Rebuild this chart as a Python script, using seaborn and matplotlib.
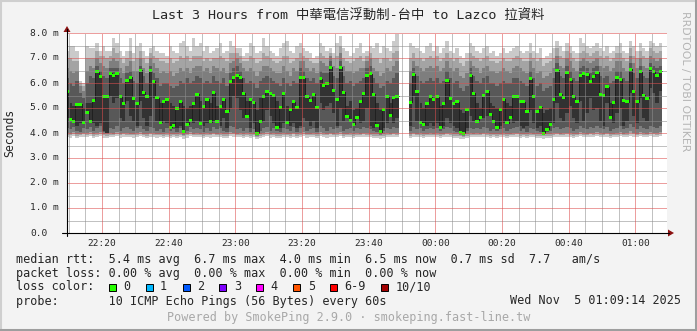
import numpy as np
import pandas as pd
import matplotlib
matplotlib.use("Agg")
import matplotlib.pyplot as plt
import seaborn as sns
from matplotlib.lines import Line2D
from matplotlib.patches import Rectangle, Polygon

nan = np.nan

# ---------------- data (ms), one sample per minute, first sample 22:09-22:10 ----------------
first_minute = 9          # minutes after 22:00 at which the first sample interval starts
median_ms = [
    5.65, 4.56, 4.48, 5.16, 5.16, 4.43, 4.83, 4.48, 5.32, 6.45,
    6.28, 5.47, 5.47, 6.40, 6.32, 6.39, 5.48, 5.20, 6.12, 6.23,
    5.39, 5.17, 6.51, 5.63, 5.48, 6.50, 6.07, 5.41, 4.44, 5.25,
    5.36, 4.24, 4.32, 4.99, 5.25, 4.05, 4.35, 4.52, 5.20, 5.55,
    4.39, 5.05, 5.36, 4.45, 5.62, 4.48, 5.08, 5.35, 4.88, 6.05,
    6.23, 6.32, 6.21, 5.60, 4.67, 5.36, 5.24, 4.00, 4.48, 5.48,
    5.68, 5.57, 5.50, 4.24, 5.01, 5.60, 4.43, 4.93, 5.25, 5.04,
    6.21, 6.21, 5.45, 5.32, 5.55, 5.01, 6.17, 5.89, 5.99, 6.64,
    5.72, 5.33, 6.63, 5.63, 4.67, 4.52, 4.36, 4.61, 5.25, 5.57,
    6.29, 6.37, 5.55, 4.29, 4.05, 4.93, 5.45, 4.69, 5.44, 5.48,
    nan, nan, nan, 5.24, 6.35, 5.65, 4.44, 4.36, 5.19, 5.45,
    5.33, 5.45, 4.24, 5.19, 6.11, 5.39, 5.19, 5.25, 4.03, 3.99,
    4.96, 6.32, 5.59, 4.48, 4.63, 5.50, 5.68, 4.76, 4.48, 4.21,
    4.93, 5.35, 4.41, 4.63, 5.45, 5.45, 5.25, 5.25, 4.88, 6.17,
    5.45, 4.88, 5.04, 4.00, 4.16, 4.36, 5.36, 6.51, 5.56, 5.41,
    6.43, 6.13, 5.48, 5.28, 6.32, 6.40, 6.35, 6.08, 6.28, 6.43,
    5.56, 5.50, 5.85, 4.61, 5.23, 6.23, 6.15, 5.29, 5.25, 6.55,
    5.68, 5.25, 6.45, 5.52, 5.39, 6.59, 6.48, 6.32, 6.48,
]
# the ping next to the median (other edge of the darkest smoke band)
ping_mid_ms = [
    4.6, 5.2, 5.1, 4.3, 4.4, 5.0, 5.2, 5.2, 4.4, 4.3,
    4.4, 4.1, 4.0, 5.5, 5.2, 5.4, 4.6, 4.5, 5.3, 4.7,
    4.5, 4.3, 5.3, 4.6, 4.3, 4.7, 5.4, 4.5, 5.2, 4.5,
    4.4, 5.2, 5.1, 4.2, 4.3, 5.1, 5.0, 5.1, 4.4, 4.5,
    5.3, 4.3, 4.4, 5.2, 4.5, 5.1, 4.3, 4.6, 4.2, 5.0,
    5.5, 5.4, 4.9, 4.6, 5.3, 4.2, 4.4, 4.9, 5.4, 4.5,
    4.9, 4.7, 4.4, 5.3, 4.2, 4.4, 5.1, 4.3, 4.4, 4.2,
    4.3, 4.6, 4.5, 4.3, 4.5, 4.2, 5.2, 4.9, 5.1, 5.2,
    4.8, 4.3, 5.0, 4.5, 5.1, 5.3, 4.9, 5.0, 4.4, 4.5,
    5.0, 4.3, 4.2, 5.2, 4.9, 4.2, 4.4, 5.2, 4.4, 4.6,
    nan, nan, nan, 4.3, 5.5, 4.5, 5.2, 5.0, 4.3, 4.4,
    4.3, 4.4, 5.1, 4.3, 4.6, 4.4, 4.3, 4.2, 4.9, 4.8,
    4.2, 4.7, 4.5, 5.2, 5.0, 4.6, 4.7, 5.2, 5.1, 5.0,
    4.3, 4.4, 5.2, 5.1, 4.4, 4.5, 4.3, 4.2, 4.3, 4.9,
    4.4, 4.2, 4.3, 4.8, 4.9, 5.0, 4.4, 5.2, 4.6, 4.5,
    4.8, 5.1, 4.6, 4.4, 5.3, 4.5, 4.8, 5.4, 4.9, 5.0,
    4.5, 4.3, 5.2, 5.2, 4.4, 4.8, 5.0, 4.3, 4.5, 5.6,
    4.7, 4.4, 5.4, 4.6, 4.5, 5.8, 5.6, 5.2, 5.7,
]
# sorted ping 1..4 (lowest) and 7..10 (highest)
ping1_ms = [
    3.84, 3.82, 3.88, 3.80, 3.83, 3.86, 3.84, 3.88, 3.80, 3.85,
    3.88, 3.82, 3.80, 3.85, 3.83, 3.88, 3.82, 3.86, 3.84, 3.83,
    3.82, 3.85, 3.88, 3.83, 3.80, 3.86, 3.84, 3.82, 3.83, 3.80,
    3.84, 3.80, 3.83, 3.79, 3.84, 3.78, 3.82, 3.87, 3.83, 3.84,
    3.83, 3.79, 3.84, 3.82, 3.86, 3.83, 3.84, 3.80, 3.79, 3.88,
    3.86, 3.83, 3.84, 3.80, 3.84, 3.79, 3.83, 3.76, 3.80, 3.84,
    3.87, 3.82, 3.84, 3.80, 3.79, 3.84, 3.83, 3.80, 3.86, 3.79,
    3.84, 3.87, 3.82, 3.83, 3.84, 3.79, 3.88, 3.84, 3.82, 3.86,
    3.83, 3.84, 3.88, 3.80, 3.83, 3.84, 3.80, 3.84, 3.83, 3.86,
    3.84, 3.83, 3.80, 3.79, 3.77, 3.80, 3.84, 3.83, 3.86, 3.84,
    nan, nan, nan, 3.80, 3.86, 3.83, 3.84, 3.80, 3.83, 3.84,
    3.83, 3.84, 3.80, 3.83, 3.86, 3.84, 3.80, 3.79, 3.77, 3.76,
    3.80, 3.84, 3.83, 3.84, 3.83, 3.86, 3.84, 3.80, 3.83, 3.80,
    3.83, 3.84, 3.80, 3.83, 3.84, 3.86, 3.80, 3.83, 3.79, 3.84,
    3.83, 3.80, 3.79, 3.77, 3.79, 3.80, 3.84, 3.86, 3.83, 3.84,
    3.86, 3.84, 3.80, 3.83, 3.88, 3.84, 3.83, 3.86, 3.84, 3.88,
    3.84, 3.83, 3.86, 3.80, 3.83, 3.84, 3.88, 3.83, 3.84, 3.90,
    3.86, 3.83, 3.88, 3.84, 3.83, 3.88, 3.86, 3.84, 3.88,
]
ping2_ms = [
    3.93, 3.92, 3.97, 3.90, 3.91, 3.95, 3.93, 3.97, 3.90, 3.93,
    3.97, 3.91, 3.90, 3.93, 3.92, 3.97, 3.91, 3.95, 3.93, 3.92,
    3.91, 3.93, 3.97, 3.92, 3.90, 3.95, 3.93, 3.91, 3.92, 3.90,
    3.93, 3.90, 3.92, 3.89, 3.93, 3.88, 3.91, 3.96, 3.92, 3.93,
    3.92, 3.89, 3.93, 3.91, 3.95, 3.92, 3.93, 3.90, 3.89, 3.97,
    3.95, 3.92, 3.93, 3.90, 3.93, 3.89, 3.92, 3.86, 3.90, 3.93,
    3.96, 3.91, 3.93, 3.90, 3.89, 3.93, 3.92, 3.90, 3.95, 3.89,
    3.93, 3.96, 3.91, 3.92, 3.93, 3.89, 3.97, 3.93, 3.91, 3.95,
    3.92, 3.93, 3.97, 3.90, 3.92, 3.93, 3.90, 3.93, 3.92, 3.95,
    3.93, 3.92, 3.90, 3.89, 3.87, 3.90, 3.93, 3.92, 3.95, 3.93,
    nan, nan, nan, 3.90, 3.95, 3.92, 3.93, 3.90, 3.92, 3.93,
    3.92, 3.93, 3.90, 3.92, 3.95, 3.93, 3.90, 3.89, 3.87, 3.86,
    3.90, 3.93, 3.92, 3.93, 3.92, 3.95, 3.93, 3.90, 3.92, 3.90,
    3.92, 3.93, 3.90, 3.92, 3.93, 3.95, 3.90, 3.92, 3.89, 3.93,
    3.92, 3.90, 3.89, 3.87, 3.89, 3.90, 3.93, 3.95, 3.92, 3.93,
    3.95, 3.93, 3.90, 3.92, 3.97, 3.93, 3.92, 3.95, 3.93, 3.97,
    3.93, 3.92, 3.95, 3.90, 3.92, 3.93, 3.97, 3.92, 3.93, 3.99,
    3.95, 3.92, 3.97, 3.93, 3.92, 3.97, 3.95, 3.93, 3.97,
]
ping3_ms = [
    4.00, 3.98, 4.05, 3.95, 3.97, 4.02, 4.00, 4.05, 3.96, 4.00,
    4.05, 3.97, 3.95, 4.00, 3.98, 4.05, 3.97, 4.02, 4.00, 3.98,
    3.97, 4.00, 4.05, 3.98, 3.96, 4.02, 4.00, 3.97, 3.98, 3.95,
    4.00, 3.96, 3.98, 3.95, 4.00, 3.93, 3.97, 4.03, 3.98, 4.00,
    3.98, 3.95, 4.00, 3.97, 4.02, 3.98, 4.00, 3.96, 3.95, 4.05,
    4.02, 3.98, 4.00, 3.96, 4.00, 3.95, 3.98, 3.90, 3.96, 4.00,
    4.03, 3.97, 4.00, 3.96, 3.95, 4.00, 3.98, 3.96, 4.02, 3.95,
    4.00, 4.03, 3.97, 3.98, 4.00, 3.95, 4.05, 4.00, 3.97, 4.02,
    3.98, 4.00, 4.05, 3.96, 3.98, 4.00, 3.96, 4.00, 3.98, 4.02,
    4.00, 3.98, 3.96, 3.95, 3.92, 3.96, 4.00, 3.98, 4.02, 4.00,
    nan, nan, nan, 3.96, 4.02, 3.98, 4.00, 3.96, 3.98, 4.00,
    3.98, 4.00, 3.96, 3.98, 4.02, 4.00, 3.96, 3.95, 3.92, 3.90,
    3.96, 4.00, 3.98, 4.00, 3.98, 4.02, 4.00, 3.96, 3.98, 3.96,
    3.98, 4.00, 3.96, 3.98, 4.00, 4.02, 3.96, 3.98, 3.95, 4.00,
    3.98, 3.96, 3.95, 3.92, 3.95, 3.96, 4.00, 4.02, 3.98, 4.00,
    4.02, 4.00, 3.96, 3.98, 4.05, 4.00, 3.98, 4.02, 4.00, 4.05,
    4.00, 3.98, 4.02, 3.96, 3.98, 4.00, 4.05, 3.98, 4.00, 4.08,
    4.02, 3.98, 4.05, 4.00, 3.98, 4.05, 4.02, 4.00, 4.05,
]
ping4_ms = [
    4.20, 4.15, 4.25, 4.10, 4.05, 4.20, 4.15, 4.25, 4.10, 4.20,
    4.30, 4.05, 4.00, 4.20, 4.15, 4.30, 4.10, 4.20, 4.25, 4.15,
    4.10, 4.20, 4.30, 4.15, 4.10, 4.25, 4.20, 4.10, 4.15, 4.05,
    4.20, 4.10, 4.15, 4.05, 4.20, 4.00, 4.10, 4.25, 4.15, 4.20,
    4.15, 4.05, 4.20, 4.10, 4.25, 4.15, 4.20, 4.10, 4.05, 4.30,
    4.25, 4.15, 4.20, 4.10, 4.20, 4.05, 4.15, 3.95, 4.10, 4.20,
    4.25, 4.10, 4.20, 4.10, 4.05, 4.20, 4.15, 4.10, 4.25, 4.05,
    4.20, 4.25, 4.10, 4.15, 4.20, 4.05, 4.30, 4.20, 4.10, 4.25,
    4.15, 4.20, 4.30, 4.10, 4.15, 4.20, 4.10, 4.20, 4.15, 4.25,
    4.20, 4.15, 4.10, 4.05, 3.98, 4.10, 4.20, 4.15, 4.25, 4.20,
    nan, nan, nan, 4.10, 4.25, 4.15, 4.20, 4.10, 4.15, 4.20,
    4.15, 4.20, 4.10, 4.15, 4.25, 4.20, 4.10, 4.05, 3.98, 3.95,
    4.10, 4.20, 4.15, 4.20, 4.15, 4.25, 4.20, 4.10, 4.15, 4.10,
    4.15, 4.20, 4.10, 4.15, 4.20, 4.25, 4.10, 4.15, 4.05, 4.20,
    4.15, 4.10, 4.05, 3.96, 4.05, 4.10, 4.20, 4.25, 4.15, 4.20,
    4.25, 4.20, 4.10, 4.15, 4.30, 4.20, 4.15, 4.25, 4.20, 4.30,
    4.20, 4.15, 4.25, 4.10, 4.15, 4.20, 4.30, 4.15, 4.20, 4.35,
    4.25, 4.15, 4.30, 4.20, 4.15, 4.30, 4.25, 4.20, 4.30,
]
ping7_ms = [
    6.2, 6.0, 5.9, 6.1, 5.6, 5.4, 6.0, 6.3, 6.2, 6.7,
    6.5, 6.3, 6.2, 6.6, 6.6, 6.6, 6.2, 6.0, 6.4, 6.5,
    6.1, 6.0, 6.7, 6.3, 6.0, 6.7, 6.4, 6.2, 5.9, 6.0,
    6.0, 5.9, 5.8, 5.9, 6.1, 6.0, 6.2, 6.0, 6.1, 6.3,
    6.2, 6.0, 6.1, 6.0, 6.3, 6.1, 6.0, 6.2, 5.9, 6.4,
    6.6, 6.7, 6.5, 6.2, 6.0, 6.1, 6.0, 5.8, 6.1, 6.2,
    6.3, 6.2, 6.1, 6.0, 5.9, 6.2, 6.0, 5.9, 6.1, 6.0,
    6.6, 6.5, 6.2, 6.1, 6.2, 6.0, 6.5, 6.4, 6.4, 6.9,
    6.3, 6.2, 6.9, 6.3, 6.0, 6.1, 5.9, 6.0, 6.1, 6.2,
    6.6, 6.7, 6.2, 6.0, 5.8, 5.9, 6.1, 6.0, 6.2, 6.4,
    nan, nan, nan, 6.0, 6.6, 6.3, 6.1, 6.0, 6.1, 6.2,
    6.1, 6.2, 6.0, 6.1, 6.5, 6.2, 6.0, 6.1, 5.8, 5.7,
    5.9, 6.6, 6.3, 6.1, 6.0, 6.2, 6.3, 6.0, 6.0, 5.9,
    6.0, 6.1, 6.0, 6.0, 6.2, 6.2, 6.1, 6.0, 5.9, 6.5,
    6.2, 5.9, 6.0, 5.7, 5.8, 5.9, 6.2, 6.8, 6.3, 6.2,
    6.7, 6.5, 6.2, 6.1, 6.6, 6.7, 6.6, 6.4, 6.6, 6.7,
    6.3, 6.2, 6.3, 6.0, 6.1, 6.5, 6.5, 6.2, 6.1, 6.8,
    6.4, 6.2, 6.7, 6.3, 6.2, 6.8, 6.7, 6.6, 6.7,
]
ping8_ms = [
    6.6, 6.5, 6.4, 6.5, 5.9, 5.7, 6.5, 6.7, 6.6, 7.0,
    6.8, 6.7, 6.6, 6.9, 7.0, 6.9, 6.6, 6.4, 6.7, 6.9,
    6.5, 6.5, 7.0, 6.6, 6.4, 7.0, 6.8, 6.6, 6.4, 6.5,
    6.4, 6.5, 6.3, 6.4, 6.6, 6.5, 6.6, 6.4, 6.6, 6.7,
    6.7, 6.5, 6.6, 6.4, 6.7, 6.6, 6.5, 6.6, 6.4, 6.8,
    6.9, 7.0, 6.8, 6.6, 6.5, 6.6, 6.5, 6.3, 6.5, 6.7,
    6.7, 6.6, 6.5, 6.4, 6.4, 6.7, 6.5, 6.3, 6.6, 6.5,
    6.9, 6.9, 6.6, 6.5, 6.6, 6.4, 6.9, 6.8, 6.7, 7.1,
    6.7, 6.6, 7.2, 6.7, 6.5, 6.5, 6.4, 6.5, 6.6, 6.6,
    6.9, 7.0, 6.6, 6.5, 6.3, 6.4, 6.6, 6.5, 6.7, 6.9,
    nan, nan, nan, 6.5, 6.9, 6.7, 6.6, 6.5, 6.6, 6.7,
    6.6, 6.7, 6.5, 6.6, 6.9, 6.6, 6.5, 6.6, 6.3, 6.2,
    6.4, 6.9, 6.7, 6.6, 6.4, 6.6, 6.7, 6.5, 6.5, 6.4,
    6.5, 6.6, 6.5, 6.4, 6.6, 6.7, 6.6, 6.5, 6.4, 6.9,
    6.6, 6.4, 6.5, 6.2, 6.3, 6.4, 6.6, 7.1, 6.7, 6.6,
    7.0, 6.9, 6.6, 6.5, 6.9, 7.0, 6.9, 6.8, 6.9, 7.0,
    6.7, 6.6, 6.7, 6.5, 6.6, 6.9, 6.9, 6.6, 6.5, 7.1,
    6.8, 6.6, 7.0, 6.7, 6.6, 7.1, 7.0, 6.9, 7.0,
]
ping9_ms = [
    7.0, 7.0, 6.9, 6.9, 6.0, 5.9, 7.0, 7.0, 7.0, 7.3,
    7.1, 7.1, 7.0, 7.1, 7.4, 7.2, 7.0, 6.8, 7.0, 7.3,
    6.9, 7.0, 7.3, 7.0, 6.8, 7.2, 7.1, 7.0, 6.9, 6.9,
    6.8, 7.0, 6.8, 6.9, 7.1, 7.0, 7.1, 6.9, 7.1, 7.1,
    7.1, 6.9, 7.0, 6.9, 7.0, 7.0, 7.1, 7.0, 6.9, 7.2,
    7.2, 7.2, 7.1, 6.9, 6.9, 7.1, 7.0, 6.8, 6.9, 7.2,
    7.1, 7.0, 6.9, 6.8, 6.9, 7.1, 7.1, 6.8, 6.9, 7.0,
    7.2, 7.1, 7.0, 6.9, 6.8, 6.8, 7.2, 7.1, 7.0, 7.2,
    7.0, 7.1, 7.5, 7.0, 6.9, 6.8, 6.9, 7.0, 7.1, 6.9,
    7.1, 7.2, 7.0, 7.0, 6.8, 7.0, 7.0, 6.9, 7.2, 7.3,
    nan, nan, nan, 7.0, 7.2, 7.0, 7.0, 6.9, 7.0, 7.1,
    7.0, 7.1, 6.9, 7.0, 7.2, 7.0, 6.9, 7.0, 6.8, 6.7,
    6.9, 7.2, 7.1, 7.0, 6.9, 7.0, 7.1, 6.9, 6.9, 6.8,
    6.9, 7.0, 6.9, 6.9, 7.0, 7.1, 7.0, 6.9, 6.9, 7.2,
    7.0, 6.9, 7.0, 6.7, 6.8, 6.9, 7.0, 7.4, 7.1, 7.0,
    7.3, 7.2, 7.0, 6.9, 7.2, 7.3, 7.2, 7.1, 7.2, 7.3,
    7.1, 7.0, 7.1, 6.9, 7.0, 7.2, 7.2, 7.0, 6.9, 7.4,
    7.1, 7.0, 7.3, 7.1, 7.0, 7.4, 7.3, 7.2, 7.3,
]
ping10_ms = [
    7.3, 7.5, 7.5, 7.3, 6.1, 6.0, 7.5, 7.4, 7.4, 7.6,
    7.3, 7.5, 7.3, 7.3, 7.8, 7.6, 7.3, 7.1, 7.3, 7.8,
    7.2, 7.5, 7.6, 7.3, 7.1, 7.4, 7.5, 7.3, 7.2, 7.2,
    7.1, 7.5, 7.3, 7.2, 7.6, 7.7, 7.5, 7.3, 7.8, 7.5,
    7.6, 7.3, 7.5, 7.2, 7.3, 7.4, 7.6, 7.2, 7.3, 7.7,
    7.5, 7.4, 7.4, 7.1, 7.2, 7.6, 7.5, 7.2, 7.3, 7.8,
    7.5, 7.3, 7.2, 7.1, 7.4, 7.6, 7.7, 7.3, 7.2, 7.5,
    7.6, 7.4, 7.3, 7.2, 7.0, 7.1, 7.6, 7.5, 7.3, 7.4,
    7.2, 7.6, 7.9, 7.4, 7.3, 7.1, 7.2, 7.4, 7.6, 7.2,
    7.3, 7.5, 7.4, 7.6, 7.2, 7.5, 7.4, 7.3, 7.7, 7.95,
    nan, nan, nan, 7.6, 7.5, 7.4, 7.3, 7.2, 7.5, 7.6,
    7.3, 7.5, 7.2, 7.4, 7.7, 7.3, 7.2, 7.4, 7.1, 7.0,
    7.2, 7.6, 7.5, 7.3, 7.2, 7.4, 7.5, 7.2, 7.3, 7.1,
    7.2, 7.4, 7.2, 7.3, 7.4, 7.5, 7.3, 7.2, 7.3, 7.6,
    7.3, 7.2, 7.4, 7.0, 7.1, 7.2, 7.4, 7.7, 7.5, 7.3,
    7.6, 7.5, 7.3, 7.2, 7.8, 7.6, 7.5, 7.4, 7.5, 7.6,
    7.4, 7.3, 7.5, 7.2, 7.3, 7.5, 7.6, 7.3, 7.2, 7.7,
    7.5, 7.3, 7.6, 7.4, 7.3, 7.7, 7.6, 7.5, 7.6,
]

x_tick_minutes = [20, 40, 60, 80, 100, 120, 140, 160, 180]
x_tick_labels = ["22:20", "22:40", "23:00", "23:20", "23:40", "00:00", "00:20", "00:40", "01:00"]
y_tick_values = [0, 1, 2, 3, 4, 5, 6, 7, 8]
y_tick_labels = ["0.0", "1.0 m", "2.0 m", "3.0 m", "4.0 m", "5.0 m", "6.0 m", "7.0 m", "8.0 m"]

title = "Last 3 Hours from 中華電信浮動制-台中 to Lazco 拉資料"
legend_rows = [
    "median rtt:  5.4 ms avg  6.7 ms max  4.0 ms min  6.5 ms now  0.7 ms sd  7.7   am/s",
    "packet loss: 0.00 % avg  0.00 % max  0.00 % min  0.00 % now",
    "loss color:",
    "probe:       10 ICMP Echo Pings (56 Bytes) every 60s",
]
loss_labels = ["0", "1", "2", "3", "4", "5", "6-9", "10/10"]
loss_colors = ["#26ff00", "#00b8ff", "#0059ff", "#7e00ff", "#ff00ff", "#ff5500", "#ff0000", "#a10000"]
date_text = "Wed Nov  5 01:09:14 2025"
footer = "Powered by SmokePing 2.9.0 · smokeping.fast-line.tw"
watermark = "RRDTOOL / TOBI OETIKER"

# ---------------- figure ----------------
W, H = 697, 331
MONO = ["DejaVu Sans Mono", "Noto Sans CJK TC"]
sns.set_style("white")
plt.rcParams["font.family"] = MONO

fig = plt.figure(figsize=(W / 100, H / 100), dpi=100)
fig.patch.set_facecolor("#f3f3f3")

def fx(px):
    return px / W

def fy(py):
    return 1 - py / H

L, R, T, B = 67, 667, 33, 233
ax = fig.add_axes([fx(L), fy(B), (R - L) / W, (B - T) / H])
ax.set_facecolor("white")
x_lo, x_hi = 9.5, 189.5
ax.set_xlim(x_lo, x_hi)
ax.set_ylim(0, 8)
for s in ax.spines.values():
    s.set_visible(False)

n = len(median_ms)
start = first_minute + np.arange(n)
med = np.array(median_ms, float)
mid = np.array(ping_mid_ms, float)
dark_lo = np.fmin(med, mid)
dark_hi = np.fmax(med, mid)

def steps(vals):
    xs = np.repeat(start, 2).astype(float)
    xs[1::2] += 1
    ys = np.repeat(np.asarray(vals, float), 2)
    return xs, ys

layers = [
    (ping1_ms, ping10_ms, "#cacaca"),
    (ping2_ms, ping9_ms, "#a4a4a4"),
    (ping3_ms, ping8_ms, "#7e7e7e"),
    (ping4_ms, ping7_ms, "#585858"),
    (dark_lo, dark_hi, "#323232"),
]
for lo, hi, col in layers:
    xs, ylo = steps(lo)
    _, yhi = steps(hi)
    ax.fill_between(xs, ylo, yhi, color=col, linewidth=0, zorder=1)

# thin median line (seaborn) – one unit per contiguous run
xs, ys = steps(med)
seg = np.cumsum(np.isnan(ys))
df = pd.DataFrame({"t": xs, "v": ys, "seg": seg}).dropna()
sns.lineplot(data=df, x="t", y="v", units="seg", estimator=None, sort=False,
             color="#202020", linewidth=0.7, ax=ax, zorder=2, legend=False)

# green median boxes
ok = ~np.isnan(med)
ax.bar(start[ok] + 0.5, 0.12, bottom=med[ok] - 0.06, width=1.0,
       color=loss_colors[0], linewidth=0, zorder=3)

# grid on top (dotted, 1 px on / 1 px off)
minor_c = (0.56, 0.56, 0.56, 0.55)
major_c = (0.87, 0.31, 0.31, 0.55)
dash = (0, (1, 1))
gkw = dict(lw=0.72, ls=dash, antialiased=False)
for m in range(10, 190, 5):
    if m % 20 == 0:
        continue
    ax.axvline(m, color=minor_c, zorder=4, **gkw)
for v in np.arange(0.5, 8.01, 0.5):
    if abs(v - round(v)) < 1e-6:
        continue
    ax.axhline(v, color=minor_c, zorder=4, **gkw)
for m in x_tick_minutes:
    ax.axvline(m, color=major_c, zorder=5, **gkw)
for v in y_tick_values[1:]:
    ax.axhline(v, color=major_c, zorder=5, **gkw)

ax.set_xticks(x_tick_minutes)
ax.set_xticklabels(x_tick_labels, fontsize=6.8, family=MONO)
ax.tick_params(axis="x", length=0, pad=4)
ax.set_yticks([])
ax.set_xlabel("")
ax.set_ylabel("")

for v, lab in zip(y_tick_values, y_tick_labels):
    fig.text(fx(30), fy(B - v * 25), lab, ha="left", va="center", fontsize=6.8, family=MONO)

# axes lines and arrows
fig.add_artist(Line2D([fx(62), fx(669)], [fy(B), fy(B)], color="black", lw=0.8))
fig.add_artist(Line2D([fx(L), fx(L)], [fy(236), fy(29)], color="black", lw=0.8))
arrow_c = "#8b1010"
fig.add_artist(Polygon([[fx(668), fy(B - 3.5)], [fx(668), fy(B + 3.5)], [fx(674), fy(B)]],
                       closed=True, color=arrow_c, lw=0))
fig.add_artist(Polygon([[fx(L - 3.5), fy(32)], [fx(L + 3.5), fy(32)], [fx(L), fy(26)]],
                       closed=True, color=arrow_c, lw=0))

# texts
fig.text(0.5, fy(15), title, ha="center", va="center", fontsize=9.6, family=MONO)
fig.text(fx(10), fy(133), "Seconds", rotation=90, ha="center", va="center", fontsize=8.3, family=MONO)
fig.text(fx(685), fy(81), watermark, rotation=270, ha="center", va="center",
         fontsize=7.8, color="#b4b4b4", family=["DejaVu Sans"])

row_y = [259, 273, 287, 301]
for yy, txt in zip(row_y, legend_rows):
    fig.text(fx(16), fy(yy), txt, ha="left", va="center", fontsize=8.5, family=MONO)
fig.text(fx(681), fy(row_y[3]), date_text, ha="right", va="center", fontsize=8.5, family=MONO)

bx = 108.7
for i, (lab, col) in enumerate(zip(loss_labels, loss_colors)):
    fig.add_artist(Rectangle((fx(bx), fy(row_y[2] + 3.5)), 7 / W, 7 / H,
                             facecolor=col, edgecolor="black", lw=0.7))
    fig.text(fx(bx + 14.5), fy(row_y[2]), lab, ha="left", va="center", fontsize=8.5, family=MONO)
    bx += 36.9 + 7.1 * (len(lab) - 1)

fig.text(0.5, fy(318), footer, ha="center", va="center", fontsize=8.5, color="#a8a8a8", family=MONO)

# 3-D frame
fig.add_artist(Line2D([0, 1], [fy(0.5), fy(0.5)], color="#cfcfcf", lw=1.5))
fig.add_artist(Line2D([fx(0.5), fx(0.5)], [0, 1], color="#cfcfcf", lw=1.5))
fig.add_artist(Line2D([0, 1], [fy(H - 1), fy(H - 1)], color="#9e9e9e", lw=2.2))
fig.add_artist(Line2D([fx(W - 1), fx(W - 1)], [0, 1], color="#9e9e9e", lw=2.2))

fig.savefig("out.png", dpi=100, facecolor=fig.get_facecolor())
